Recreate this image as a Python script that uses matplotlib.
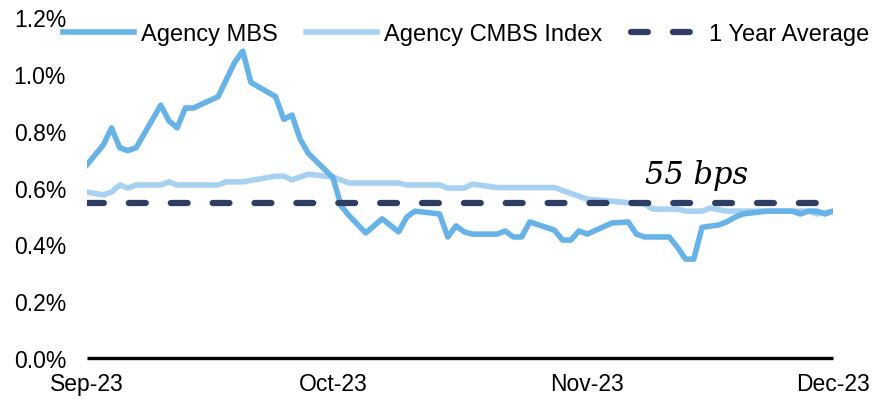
import matplotlib
matplotlib.use("Agg")
import matplotlib.pyplot as plt
import matplotlib.dates as mdates
import pandas as pd

# spreads (%), business days Sep-23 to Dec-23
mbs_dates = ["2023-09-01", "2023-09-03", "2023-09-04", "2023-09-05", "2023-09-06",
             "2023-09-07", "2023-09-10", "2023-09-11", "2023-09-12", "2023-09-13",
             "2023-09-14", "2023-09-17", "2023-09-19", "2023-09-20", "2023-09-21",
             "2023-09-24", "2023-09-25", "2023-09-26", "2023-09-27", "2023-09-28",
             "2023-10-01", "2023-10-02", "2023-10-03", "2023-10-05", "2023-10-07",
             "2023-10-09", "2023-10-10", "2023-10-11", "2023-10-14", "2023-10-15",
             "2023-10-16", "2023-10-17", "2023-10-18", "2023-10-21", "2023-10-22",
             "2023-10-23", "2023-10-24", "2023-10-25", "2023-10-28", "2023-10-29",
             "2023-10-30", "2023-10-31", "2023-11-01", "2023-11-04", "2023-11-06",
             "2023-11-07", "2023-11-08", "2023-11-11", "2023-11-12", "2023-11-13",
             "2023-11-14", "2023-11-15", "2023-11-17", "2023-11-18", "2023-11-19",
             "2023-11-20", "2023-11-22", "2023-11-23", "2023-11-25", "2023-11-26",
             "2023-11-27", "2023-11-28", "2023-11-29", "2023-11-30", "2023-12-01"]
mbs_values = [0.68, 0.75, 0.81, 0.74, 0.73,
              0.74, 0.89, 0.835, 0.81, 0.88,
              0.88, 0.92, 1.04, 1.08, 0.97,
              0.92, 0.84, 0.855, 0.77, 0.72,
              0.635, 0.535, 0.50, 0.44, 0.49,
              0.444, 0.496, 0.517, 0.507, 0.426,
              0.465, 0.444, 0.436, 0.436, 0.447,
              0.426, 0.426, 0.479, 0.45, 0.415,
              0.415, 0.447, 0.436, 0.475, 0.479,
              0.436, 0.426, 0.426, 0.39, 0.348,
              0.348, 0.46, 0.468, 0.479, 0.495,
              0.507, 0.514, 0.517, 0.517, 0.517,
              0.507, 0.517, 0.517, 0.507, 0.517]

cmbs_dates = ["2023-09-01", "2023-09-03", "2023-09-04", "2023-09-05", "2023-09-06",
              "2023-09-07", "2023-09-10", "2023-09-11", "2023-09-12", "2023-09-17",
              "2023-09-18", "2023-09-20", "2023-09-24", "2023-09-25", "2023-09-26",
              "2023-09-28", "2023-10-01", "2023-10-03", "2023-10-09", "2023-10-10",
              "2023-10-14", "2023-10-15", "2023-10-17", "2023-10-18", "2023-10-21",
              "2023-10-28", "2023-11-01", "2023-11-04", "2023-11-05", "2023-11-08",
              "2023-11-09", "2023-11-12", "2023-11-13", "2023-11-15", "2023-11-16",
              "2023-11-18", "2023-11-28", "2023-11-29", "2023-12-01"]
cmbs_values = [0.584, 0.574, 0.584, 0.609, 0.598,
               0.609, 0.609, 0.62, 0.609, 0.609,
               0.62, 0.62, 0.64, 0.64, 0.627,
               0.647, 0.637, 0.616, 0.616, 0.609,
               0.609, 0.598, 0.598, 0.612, 0.60,
               0.60, 0.559, 0.552, 0.549, 0.542,
               0.524, 0.524, 0.517, 0.517, 0.528,
               0.517, 0.517, 0.507, 0.517]

avg_value = 0.545
avg_label = "55 bps"
month_ticks = ["2023-09-01", "2023-10-01", "2023-11-01", "2023-12-01"]
y_ticks = [0.0, 0.2, 0.4, 0.6, 0.8, 1.0, 1.2]

plt.rcParams['font.family'] = ['Liberation Sans', 'DejaVu Sans']

fig = plt.figure(figsize=(8.78, 4.02), dpi=100)
ax = fig.add_axes([0.099, 0.107, 0.850, 0.848])

mbs_x = pd.to_datetime(mbs_dates)
cmbs_x = pd.to_datetime(cmbs_dates)
ticks_x = pd.to_datetime(month_ticks)

ax.plot(cmbs_x, cmbs_values, color="#A6D1F0", lw=4.0, zorder=2,
        solid_joinstyle="round", label="Agency CMBS Index")
ax.plot(mbs_x, mbs_values, color="#67B3E7", lw=4.0, zorder=3,
        solid_joinstyle="round", label="Agency MBS")
ax.plot([ticks_x[0], ticks_x[-1]], [avg_value, avg_value], color="#2E3E63",
        lw=4.5, ls=(0, (2.7, 4.0)), dash_capstyle="round", zorder=4,
        label="1 Year Average")

ax.text(pd.Timestamp("2023-11-08"), 0.645, avg_label, family="DejaVu Serif",
        style="italic", fontsize=22, ha="left", va="center")

ax.set_xlim(ticks_x[0], ticks_x[-1])
ax.set_ylim(0, 1.2)
ax.set_xticks(ticks_x)
ax.xaxis.set_major_formatter(mdates.DateFormatter("%b-%y"))
ax.set_yticks(y_ticks)
ax.set_yticklabels([f"{v:.1f}%" for v in y_ticks])
ax.tick_params(axis="both", length=0, labelsize=16.5)
ax.tick_params(axis="y", pad=15)
ax.tick_params(axis="x", pad=10)

for s in ["top", "right", "left"]:
    ax.spines[s].set_visible(False)
ax.spines["bottom"].set_linewidth(2.4)
ax.spines["bottom"].set_capstyle("butt")

handles, labels = ax.get_legend_handles_labels()
order = [1, 0, 2]
ax.legend([handles[i] for i in order], [labels[i] for i in order],
          loc="center", bbox_to_anchor=(466 / 878, 0.913),
          bbox_transform=fig.transFigure, ncol=3, frameon=False,
          fontsize=17, handlelength=3.0, handletextpad=0.3,
          columnspacing=1.2, borderpad=0)

fig.savefig("out.png", dpi=100)
